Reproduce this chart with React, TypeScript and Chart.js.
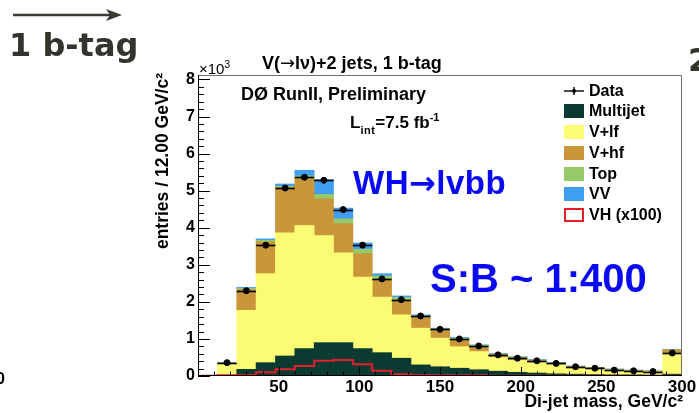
import React, { useEffect, useRef } from "react";
import { Chart, registerables } from "chart.js";

Chart.register(...registerables);

// Di-jet mass histogram, 12 GeV bins from 0 to 300 GeV (values in thousands of entries)
const BIN_WIDTH = 12;
const X_MIN = 0;
const X_MAX = 300;
const Y_MAX = 8.12;

const binLowEdges = [0, 12, 24, 36, 48, 60, 72, 84, 96, 108, 120, 132, 144, 156, 168, 180, 192, 204, 216, 228, 240, 252, 264, 276, 288];

const multijet = [0, 0.02, 0.18, 0.36, 0.54, 0.74, 0.9, 0.9, 0.74, 0.63, 0.48, 0.3, 0.25, 0.21, 0.17, 0.13, 0.1, 0.08, 0.06, 0.05, 0.04, 0.03, 0.03, 0.02, 0.05];
const vPlusLf = [0, 0.31, 1.59, 2.4, 3.32, 3.32, 2.89, 2.42, 1.93, 1.5, 1.17, 0.99, 0.77, 0.58, 0.49, 0.37, 0.32, 0.28, 0.24, 0.18, 0.15, 0.13, 0.1, 0.09, 0.55];
const vPlusHf = [0, 0.02, 0.56, 0.86, 1.22, 1.26, 0.99, 0.79, 0.63, 0.49, 0.4, 0.28, 0.21, 0.19, 0.14, 0.08, 0.07, 0.06, 0.04, 0.03, 0.03, 0.02, 0.02, 0.02, 0.1];
const topQuark = [0, 0.01, 0.03, 0.04, 0.04, 0.08, 0.12, 0.13, 0.12, 0.08, 0.07, 0.05, 0.04, 0.04, 0.03, 0.02, 0.02, 0.02, 0.01, 0.005, 0.005, 0.005, 0.005, 0.005, 0.01];
const diboson = [0, 0.01, 0.03, 0.04, 0.06, 0.15, 0.4, 0.29, 0.17, 0.06, 0.04, 0.03, 0.02, 0.02, 0.01, 0.01, 0.01, 0.01, 0.01, 0.005, 0.005, 0.005, 0.005, 0.005, 0.01];
const vhTimes100 = [0, 0.01, 0.02, 0.03, 0.1, 0.18, 0.27, 0.41, 0.43, 0.32, 0.14, 0.05, 0.03, 0.02, 0.02, 0.02, 0.01, 0.01, 0.01, 0.01, 0.01, 0.01, 0.01, 0.01, 0.01];
const dataCounts = [null, 0.36, 2.3, 3.53, 5.07, 5.36, 5.28, 4.49, 3.53, 2.62, 2.06, 1.62, 1.26, 1.0, 0.81, 0.57, 0.48, 0.41, 0.34, 0.25, 0.21, 0.16, 0.14, 0.12, 0.62];

const yTickValues = [0, 1, 2, 3, 4, 5, 6, 7, 8];
const yMinorStep = 0.2;
const xTickValues = [50, 100, 150, 200, 250, 300];
const xMinorStep = 10;

const COLORS = {
  multijet: "#0b3a33",
  vlf: "#fcfc74",
  vhf: "#c9963a",
  top: "#95c96a",
  vv: "#3f9ef0",
  vh: "#e3202a",
  data: "#000000",
};

const FONT = "'Liberation Sans', Arial, Helvetica, sans-serif";
const SLIDE_FONT = "'DejaVu Sans', Verdana, sans-serif";

const centers = binLowEdges.map((e) => e + BIN_WIDTH / 2);
const barPoints = (vals: number[]) => vals.map((v, i) => ({ x: centers[i], y: v }));

// ROOT-style frame: error bars on data, inward ticks, frame lines
const rootFrame = {
  id: "rootFrame",
  afterDraw(chart: any) {
    const ctx: CanvasRenderingContext2D = chart.ctx;
    const a = chart.chartArea;
    const x = chart.scales.x;
    const y = chart.scales.y;
    ctx.save();

    // horizontal bin-width bars on the data points
    ctx.strokeStyle = COLORS.data;
    ctx.lineWidth = 1.6;
    for (let i = 0; i < dataCounts.length; i++) {
      const v = dataCounts[i];
      if (v == null) continue;
      const py = Math.round(y.getPixelForValue(v)) + 0.5;
      ctx.beginPath();
      ctx.moveTo(x.getPixelForValue(binLowEdges[i]), py);
      ctx.lineTo(x.getPixelForValue(binLowEdges[i] + BIN_WIDTH), py);
      ctx.stroke();
    }

    // frame
    ctx.lineWidth = 1;
    ctx.strokeStyle = "#6e6e6e";
    ctx.beginPath();
    ctx.moveTo(a.left, a.top + 0.5);
    ctx.lineTo(a.right - 0.5, a.top + 0.5);
    ctx.lineTo(a.right - 0.5, a.bottom);
    ctx.stroke();

    ctx.strokeStyle = "#000";
    ctx.beginPath();
    ctx.moveTo(a.left + 0.5, a.top);
    ctx.lineTo(a.left + 0.5, a.bottom);
    ctx.moveTo(a.left, a.bottom - 0.5);
    ctx.lineTo(a.right, a.bottom - 0.5);

    // y ticks (major + minor), pointing into the plot
    const nMinorY = Math.round(yTickValues[yTickValues.length - 1] / yMinorStep);
    for (let k = 0; k <= nMinorY; k++) {
      const v = k * yMinorStep;
      const py = Math.round(y.getPixelForValue(v)) + 0.5;
      const isMajor = yTickValues.some((t) => Math.abs(t - v) < 1e-6);
      const len = isMajor ? 12 : 6;
      ctx.moveTo(a.left, py);
      ctx.lineTo(a.left + len, py);
    }
    // x ticks, pointing up
    const nMinorX = Math.round((X_MAX - X_MIN) / xMinorStep);
    for (let k = 1; k < nMinorX; k++) {
      const v = X_MIN + k * xMinorStep;
      const px = Math.round(x.getPixelForValue(v)) + 0.5;
      const isMajor = xTickValues.indexOf(v) >= 0;
      const len = isMajor ? 9 : 4.5;
      ctx.moveTo(px, a.bottom);
      ctx.lineTo(px, a.bottom - len);
    }
    ctx.stroke();
    ctx.restore();
  },
};

const legendRows = [
  { label: "Data", kind: "data" },
  { label: "Multijet", kind: "fill", color: COLORS.multijet },
  { label: "V+lf", kind: "fill", color: COLORS.vlf },
  { label: "V+hf", kind: "fill", color: COLORS.vhf },
  { label: "Top", kind: "fill", color: COLORS.top },
  { label: "VV", kind: "fill", color: COLORS.vv },
  { label: "VH (x100)", kind: "line", color: COLORS.vh },
];

export default function App() {
  const canvasRef = useRef<HTMLCanvasElement | null>(null);

  useEffect(() => {
    if (!canvasRef.current) return;
    Chart.defaults.font.family = FONT;
    const barDefaults = {
      type: "bar" as const,
      stack: "bkg",
      borderWidth: 0,
      barPercentage: 1,
      categoryPercentage: 1,
    };
    const vhLine = binLowEdges
      .map((e, i) => ({ x: e, y: vhTimes100[i] }))
      .concat([{ x: X_MAX, y: vhTimes100[vhTimes100.length - 1] }]);

    const chart = new Chart(canvasRef.current, {
      type: "bar",
      data: {
        datasets: [
          {
            type: "scatter",
            label: "Data",
            stack: "data",
            data: dataCounts
              .map((v, i) => (v == null ? null : { x: centers[i], y: v }))
              .filter((p) => p !== null) as any,
            backgroundColor: COLORS.data,
            borderColor: COLORS.data,
            pointRadius: 3,
            pointHoverRadius: 3,
          },
          {
            type: "line",
            label: "VH (x100)",
            stack: "vh",
            data: vhLine,
            stepped: "after",
            borderColor: COLORS.vh,
            borderWidth: 2,
            pointRadius: 0,
            fill: false,
          },
          { ...barDefaults, label: "Multijet", data: barPoints(multijet), backgroundColor: COLORS.multijet },
          { ...barDefaults, label: "V+lf", data: barPoints(vPlusLf), backgroundColor: COLORS.vlf },
          { ...barDefaults, label: "V+hf", data: barPoints(vPlusHf), backgroundColor: COLORS.vhf },
          { ...barDefaults, label: "Top", data: barPoints(topQuark), backgroundColor: COLORS.top },
          { ...barDefaults, label: "VV", data: barPoints(diboson), backgroundColor: COLORS.vv },
        ] as any,
      },
      options: {
        responsive: false,
        animation: false,
        layout: { padding: { top: 75, right: 17, left: 0, bottom: 0 } },
        plugins: { legend: { display: false }, tooltip: { enabled: false } },
        scales: {
          x: {
            type: "linear",
            min: X_MIN,
            max: X_MAX,
            offset: false,
            stacked: true,
            grid: { display: false, drawTicks: false, offset: false },
            border: { display: false },
            afterBuildTicks: (s: any) => {
              s.ticks = xTickValues.map((value) => ({ value }));
            },
            afterFit: (s: any) => {
              s.height = 37;
            },
            ticks: {
              color: "#000",
              font: { family: FONT, size: 17, weight: "bold" },
              padding: 1,
              maxRotation: 0,
              autoSkip: false,
            },
          },
          y: {
            type: "linear",
            min: 0,
            max: Y_MAX,
            stacked: true,
            grid: { display: false, drawTicks: false },
            border: { display: false },
            afterBuildTicks: (s: any) => {
              s.ticks = yTickValues.map((value) => ({ value }));
            },
            afterFit: (s: any) => {
              s.width = 198;
            },
            ticks: {
              color: "#000",
              font: { family: FONT, size: 16, weight: "bold" },
              padding: 3,
            },
          },
        },
      } as any,
      plugins: [rootFrame],
    });
    return () => chart.destroy();
  }, []);

  const abs = (style: React.CSSProperties): React.CSSProperties => ({
    position: "absolute",
    whiteSpace: "nowrap",
    margin: 0,
    ...style,
  });

  return (
    <div
      style={{
        position: "fixed",
        left: 0,
        top: 0,
        width: 699,
        height: 413,
        overflow: "hidden",
        background: "#fff",
        fontFamily: FONT,
      }}
    >
      <canvas ref={canvasRef} width={699} height={413} style={{ position: "absolute", left: 0, top: 0, display: "block" }} />

      {/* slide heading with arrow */}
      <svg width={130} height={30} style={{ position: "absolute", left: 0, top: 0 }}>
        <line x1={13} y1={15} x2={112} y2={15} stroke="#3a3a33" strokeWidth={2.5} />
        <polygon points="106,9 122,15 106,21 110,15" fill="#3a3a33" />
      </svg>
      <div style={abs({ left: 9, top: 29, fontFamily: SLIDE_FONT, fontWeight: 700, fontSize: 32, lineHeight: "32px", color: "#34342c" })}>
        1 b-tag
      </div>
      <div style={abs({ left: 688, top: 44, fontFamily: SLIDE_FONT, fontWeight: 700, fontSize: 32, lineHeight: "32px", color: "#34342c" })}>
        2
      </div>
      <div style={abs({ left: -4, top: 371, fontWeight: 700, fontSize: 16, lineHeight: "16px", color: "#000" })}>0</div>

      {/* plot title and exponent */}
      <div style={abs({ left: 199, top: 61, fontSize: 15, lineHeight: "15px", color: "#000" })}>
        ×10<sup style={{ fontSize: 10, verticalAlign: "6px", lineHeight: 0 }}>3</sup>
      </div>
      <div style={abs({ left: 262, top: 54, fontWeight: 700, fontSize: 18, lineHeight: "18px", color: "#000" })}>
        V(<span style={{ fontFamily: SLIDE_FONT, fontWeight: 400 }}>→</span>lν)+2 jets, 1 b-tag
      </div>
      <div style={abs({ left: 241, top: 85, fontWeight: 700, fontSize: 18, lineHeight: "18px", color: "#000" })}>
        DØ RunII, Preliminary
      </div>
      <div style={abs({ left: 350, top: 114, fontWeight: 700, fontSize: 17, lineHeight: "17px", color: "#000" })}>
        L<sub style={{ fontSize: 11, verticalAlign: "-6px", lineHeight: 0, letterSpacing: 0.5 }}>int</sub>=7.5 fb
        <sup style={{ fontSize: 11, verticalAlign: "7px", lineHeight: 0 }}>-1</sup>
      </div>

      {/* legend */}
      {legendRows.map((row, i) => {
        const cy = 90.5 + i * 20.75;
        return (
          <React.Fragment key={row.label}>
            {row.kind === "fill" && (
              <div style={abs({ left: 564, top: cy - 7, width: 20, height: 14, background: row.color })} />
            )}
            {row.kind === "line" && (
              <div
                style={abs({
                  left: 564,
                  top: cy - 7,
                  width: 20,
                  height: 14,
                  boxSizing: "border-box",
                  border: `2px solid ${row.color}`,
                  background: "#fff",
                })}
              />
            )}
            {row.kind === "data" && (
              <svg width={22} height={14} style={{ position: "absolute", left: 563, top: cy - 7 }}>
                <line x1={1} y1={7} x2={21} y2={7} stroke="#000" strokeWidth={1.4} />
                <line x1={11} y1={3} x2={11} y2={11} stroke="#000" strokeWidth={1.4} />
                <circle cx={11} cy={7} r={2} fill="#000" />
              </svg>
            )}
            <div style={abs({ left: 589, top: cy - 8, fontWeight: 700, fontSize: 16, lineHeight: "16px", color: "#000" })}>
              {row.label}
            </div>
          </React.Fragment>
        );
      })}

      {/* annotations */}
      <div style={abs({ left: 353, top: 166, fontWeight: 700, fontSize: 33, lineHeight: "33px", color: "#0a0af2", letterSpacing: 0.5 })}>
        WH<span style={{ fontFamily: SLIDE_FONT, fontSize: 32 }}>→</span>lvbb
      </div>
      <div style={abs({ left: 430, top: 258, fontWeight: 700, fontSize: 40, lineHeight: "40px", color: "#0a0af2" })}>
        S:B ~ 1:400
      </div>

      {/* axis titles */}
      <div style={abs({ right: 16, top: 393, fontWeight: 700, fontSize: 17.5, lineHeight: "17px", color: "#000" })}>
        Di-jet mass, GeV/c²
      </div>
      <div
        style={abs({
          left: 42,
          top: 184,
          width: 240,
          height: 18,
          textAlign: "right",
          fontWeight: 700,
          fontSize: 17.5,
          lineHeight: "18px",
          color: "#000",
          transform: "rotate(-90deg)",
        })}
      >
        entries / 12.00 GeV/c²
      </div>
    </div>
  );
}
